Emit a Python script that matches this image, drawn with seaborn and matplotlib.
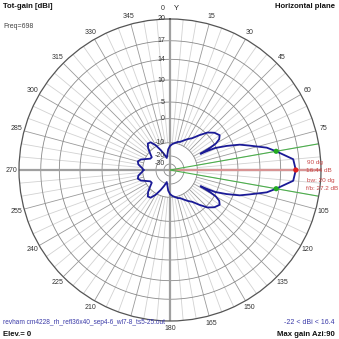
import numpy as np
import pandas as pd
import matplotlib
matplotlib.use("Agg")
import matplotlib.pyplot as plt
import matplotlib.transforms as mtransforms
import seaborn as sns

# ---- scale of the chart: ring values (dBi) and their relative radius ----
ring_dbi = [20, 17, 14, 10, 5, 0, -10, -20, -30]
ring_labels = ["20", "17", "14", "10", "5", "0", "-10", "-20", "-30"]
ring_frac = [1.0, 0.856, 0.733, 0.596, 0.450, 0.340, 0.181, 0.093, 0.040]

# ---- half pattern (symmetric about the 90/270 axis); azimuth -90 == 270 ----
azimuth_deg = [-90, -85, -80, -75, -70, -65, -60, -55, -50, -45, -40, -35, -30,
               -25, -20, -15, -10, -5, 0, 5, 10, 15, 20, 25, 30, 35, 40, 45,
               50, 55, 58, 60, 61, 62, 63, 64, 67, 70, 73, 77, 80, 85, 90]
gain_dbi = [-10.76, -9.5, -8.0, -7.5, -8.5, -11.0, -13.5, -13.8, -11.0, -8.5,
            -7.0, -7.3, -9.5, -14.0, -18.0, -22.0, -19.0, -15.0, -12.5, -11.0,
            -10.0, -9.3, -8.9, -7.8, -6.5, -5.2, -2.5, 0.5, 2.0, 2.8, 2.0, 0.5,
            -2.0, -7.0, -4.0, -0.5, 3.1, 6.4, 8.5, 11.8, 13.44, 16.1, 16.44]

# angle labels shown on the rim (90 and 195 are hidden by other texts)
angle_ticks = [15, 30, 45, 60, 75, 105, 120, 135, 150, 165, 180, 210, 225,
               240, 255, 270, 285, 300, 315, 330, 345]
max_azimuth = 90
max_gain = 16.44
beamwidth = 20
front_back = 27.2
min_gain = -22
freq = 698
elev = 0
file_name = "revham cm4228_rh_refl36x40_sep4-6_wl7-8_ts5-25.out"

# full closed curve
az = np.array(azimuth_deg, dtype=float)
g = np.array(gain_dbi, dtype=float)
full_az = np.concatenate([az, 180 - az[::-1]])
full_g = np.concatenate([g, g[::-1]])
df = pd.DataFrame({"theta": np.deg2rad(full_az), "gain": full_g})

# radial scale (log-like ARRL rings)
sc_db = np.array([-40] + ring_dbi[::-1], dtype=float)
sc_r = np.array([0.0] + ring_frac[::-1], dtype=float)


def fwd(v):
    return np.interp(v, sc_db, sc_r)


def inv(r):
    return np.interp(r, sc_r, sc_db)


sns.set_theme(style="white")
plt.rcParams["font.family"] = ["Liberation Sans", "DejaVu Sans"]

W = 339
fig = plt.figure(figsize=(W / 100, W / 100), dpi=100)
fig.patch.set_facecolor("white")
ax = fig.add_axes([19 / W, 18 / W, 302 / W, 302 / W], projection="polar")
ax.set_theta_zero_location("N")
ax.set_theta_direction(-1)
ax.set_rscale("function", functions=(fwd, inv))
ax.set_facecolor("white")
ax.grid(False)

thetas = np.linspace(0, 2 * np.pi, 721)
# spokes every 5 degrees
for a in range(0, 360, 5):
    th = np.deg2rad(a)
    if a % 90 == 0:
        continue
    col = "#9a9a9a" if a % 15 == 0 else "#d2d2d2"
    ax.plot([th, th], [-10, 20], color=col, lw=0.6, zorder=1)
# rings
for v in ring_dbi[1:]:
    ax.plot(thetas, np.full_like(thetas, v), color="#8a8a8a", lw=0.6, zorder=1)
# main axes
for a in (0, 90, 180, 270):
    th = np.deg2rad(a)
    ax.plot([th, th], [-40, 20], color="#a0a0a0", lw=1.6, zorder=1)

# beam markers
ax.plot([np.deg2rad(max_azimuth)] * 2, [-40, 20], color="#d89494", lw=1.6, zorder=2)
for a in (max_azimuth - beamwidth / 2, max_azimuth + beamwidth / 2):
    ax.plot([np.deg2rad(a)] * 2, [-40, 20], color="#4caf4c", lw=0.8, zorder=2)

sns.lineplot(data=df, x="theta", y="gain", sort=False, estimator=None, ax=ax,
             color="#1a1a96", lw=1.3, zorder=3)

pts = pd.DataFrame({
    "theta": np.deg2rad([max_azimuth - beamwidth / 2, max_azimuth + beamwidth / 2, max_azimuth]),
    "gain": [max_gain - 3, max_gain - 3, max_gain],
    "kind": ["bw", "bw", "max"],
})
sns.scatterplot(data=pts, x="theta", y="gain", hue="kind",
                palette={"bw": "#22aa22", "max": "#e02020"}, s=14,
                edgecolor="none", legend=False, ax=ax, zorder=4)

ax.set_rlim(-40, 20)
ax.set_xticks([])
ax.set_yticks([])
ax.set_xlabel("")
ax.set_ylabel("")
ax.spines["polar"].set_color("#555555")
ax.spines["polar"].set_linewidth(0.9)

# ring labels (left of the vertical axis)
off = mtransforms.offset_copy(ax.transData, fig=fig, x=-5, y=0, units="dots")
for v, lab in zip(ring_dbi, ring_labels):
    ax.text(0, v, lab, transform=off, ha="right", va="center", fontsize=5,
            color="#333333", zorder=5)

# angle labels
for a in angle_ticks:
    t = np.deg2rad(a)
    rr = 0.525
    ax.text(0.5 + rr * np.sin(t), 0.5 + rr * np.cos(t), str(a),
            transform=ax.transAxes, ha="center", va="center", fontsize=5,
            color="#333333")


def ftext(x, y, s, **kw):
    fig.text(x / W, 1 - y / W, s, **kw)


ftext(163, 8, "0", ha="center", va="center", fontsize=5, color="#333333")
ftext(176, 9, "Y", ha="center", va="center", fontsize=5.5, color="#222222")
ftext(3, 7, "Tot-gain [dBi]", ha="left", va="center", fontsize=5.6,
      fontweight="bold", color="#111111")
ftext(3, 26, f"Freq={freq}", ha="left", va="center", fontsize=5,
      color="#444444")
ftext(335, 7, "Horizontal plane", ha="right", va="center", fontsize=5.6,
      fontweight="bold", color="#111111")
ftext(3, 323, file_name, ha="left", va="center", fontsize=4.7, color="#3a3aa8")
ftext(3, 334, f"Elev.= {elev}", ha="left", va="center", fontsize=5.6,
      fontweight="bold", color="#111111")
ftext(335, 323, f"{min_gain} < dBi < {max_gain:.1f}", ha="right", va="center",
      fontsize=5, color="#3a3aa8")
ftext(335, 334, f"Max gain Azi:{max_azimuth}", ha="right", va="center",
      fontsize=5.6, fontweight="bold", color="#111111")

red = "#c84848"
ftext(307, 162, f"{max_azimuth} dg", ha="left", va="center", fontsize=4.6, color=red)
ftext(306, 171, f"{max_gain:.2f} dB", ha="left", va="center", fontsize=4.6, color=red)
ftext(307, 180, f"bw: {beamwidth} dg", ha="left", va="center", fontsize=4.6, color=red)
ftext(306, 189, f"f/b: {front_back} dB", ha="left", va="center", fontsize=4.6, color=red)

fig.savefig("out.png", dpi=100, facecolor="white")
